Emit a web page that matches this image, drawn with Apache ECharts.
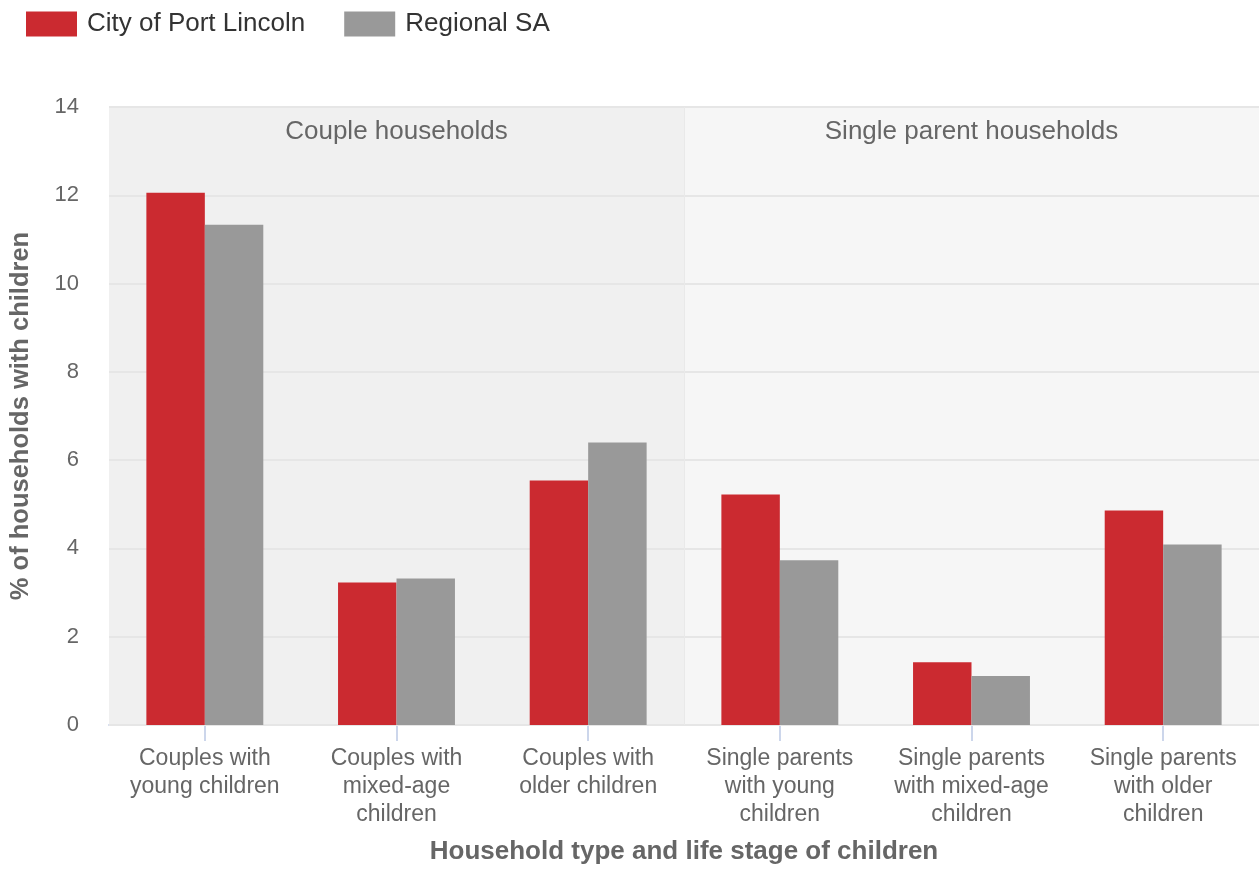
<!DOCTYPE html>
<html>
<head>
<meta charset="utf-8">
<script src="https://cdn.jsdelivr.net/npm/echarts@6/dist/echarts.min.js"></script>
<style>html,body{margin:0;padding:0;background:#fff}#c{width:1259px;height:870px}</style>
</head>
<body>
<div id="c"></div>
<script>
const categories = [
  'Couples with\nyoung children',
  'Couples with\nmixed-age\nchildren',
  'Couples with\nolder children',
  'Single parents\nwith young\nchildren',
  'Single parents\nwith mixed-age\nchildren',
  'Single parents\nwith older\nchildren'
];
const portLincoln = [12.06, 3.23, 5.54, 5.22, 1.42, 4.86];
const regionalSA = [11.33, 3.32, 6.40, 3.73, 1.11, 4.09];
const bandLabels = ['Couple households', 'Single parent households'];
const bandRanges = [[0, 3], [3, 6]];
const yTicks = {min: 0, max: 14, interval: 2};

const font = '"Liberation Sans", Arial, sans-serif';
const chart = echarts.init(document.getElementById('c'), null, {renderer: 'canvas'});
chart.setOption({
  animation: false,
  textStyle: {fontFamily: font},
  legend: {
    left: 21, top: 6, itemWidth: 51, itemHeight: 25, itemGap: 39,
    icon: 'rect',
    textStyle: {fontSize: 26, color: '#333', fontFamily: font, padding: [2, 0, 0, 5]},
    data: ['City of Port Lincoln', 'Regional SA']
  },
  grid: {left: 108, right: 0, top: 107, bottom: 144},
  xAxis: [{
    type: 'category', data: categories,
    axisLine: {lineStyle: {color: '#ccd6eb', width: 2}},
    axisTick: {show: true, alignWithLabel: true, length: 16, lineStyle: {color: '#ccd6eb', width: 2}},
    axisLabel: {fontSize: 23, color: '#666', lineHeight: 28, margin: 20, fontFamily: font, interval: 0},
    name: 'Household type and life stage of children',
    nameLocation: 'middle', nameGap: 114,
    nameTextStyle: {fontSize: 26, fontWeight: 'bold', color: '#666', fontFamily: font}
  }, {
    type: 'value', min: 0, max: 6, show: false
  }],
  yAxis: {
    type: 'value', min: yTicks.min, max: yTicks.max, interval: yTicks.interval, z: 3,
    axisLine: {show: false}, axisTick: {show: false},
    splitLine: {lineStyle: {color: '#e6e6e6', width: 2}},
    axisLabel: {fontSize: 22, color: '#666', margin: 30, fontFamily: font},
    name: '% of households with children',
    nameLocation: 'middle', nameGap: 75,
    nameTextStyle: {fontSize: 25.5, fontWeight: 'bold', color: '#666', fontFamily: font}
  },
  series: [{
    type: 'line', xAxisIndex: 1, data: [], z: 1, silent: true,
    markArea: {
      silent: true,
      label: {position: 'insideTop', distance: 12, fontSize: 26, color: '#666', fontFamily: font},
      data: bandRanges.map((r, i) => [
        {xAxis: r[0], name: bandLabels[i], itemStyle: {color: i === 0 ? '#f0f0f0' : '#f6f6f6'}},
        {xAxis: r[1]}
      ])
    },
    markLine: {
      silent: true, symbol: 'none', label: {show: false},
      lineStyle: {color: '#e9e9e9', width: 1, type: 'solid'},
      data: [{xAxis: bandRanges[0][1]}]
    }
  }, {
    name: 'City of Port Lincoln', type: 'bar', data: portLincoln, z: 5,
    itemStyle: {color: '#cb2a30'}, barGap: '0%', barCategoryGap: '39%'
  }, {
    name: 'Regional SA', type: 'bar', data: regionalSA, z: 5,
    itemStyle: {color: '#999999'}, barGap: '0%', barCategoryGap: '39%'
  }]
});
</script>
</body>
</html>
